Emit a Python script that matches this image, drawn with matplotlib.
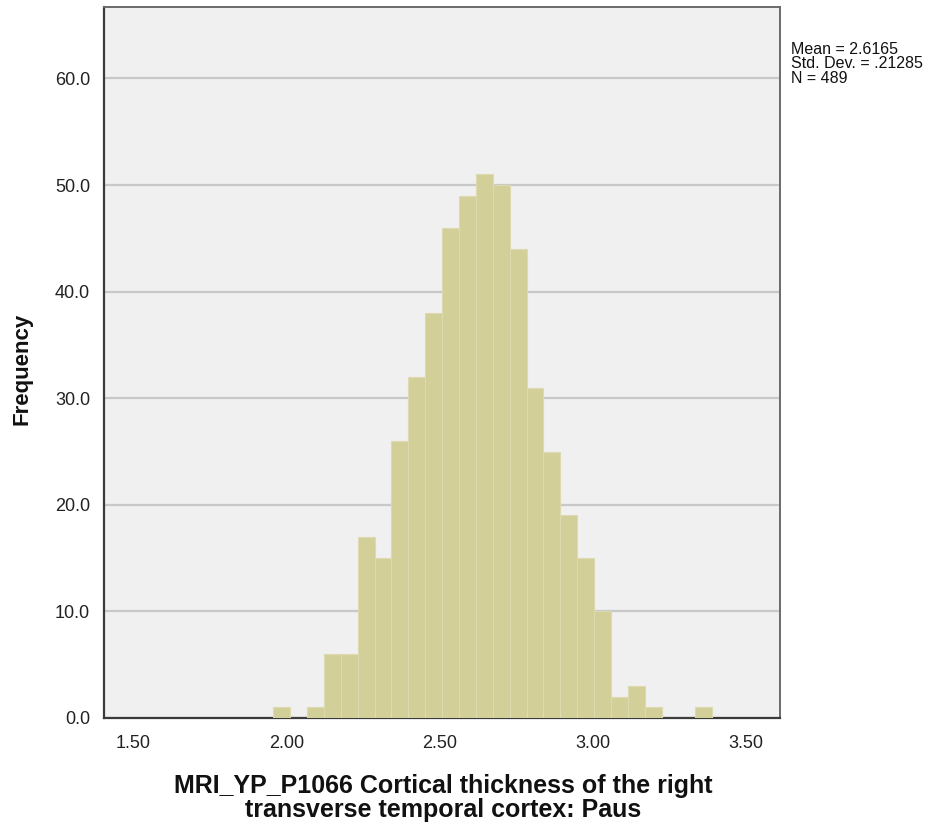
import numpy as np
import matplotlib
matplotlib.use("Agg")
import matplotlib.pyplot as plt

# -----------------------------
# Data
# -----------------------------
bin_start = 1.9565
bin_width = 0.05513
counts = [1, 0, 1, 6, 6, 17, 15, 26, 32, 38, 46, 49, 51, 50, 44,
          31, 25, 19, 15, 10, 2, 3, 1, 0, 0, 1]
x_ticks = [1.50, 2.00, 2.50, 3.00, 3.50]
y_ticks = [0, 10, 20, 30, 40, 50, 60]
stats_lines = ["Mean = 2.6165", "Std. Dev. = .21285", "N = 489"]
x_label = "MRI_YP_P1066 Cortical thickness of the right\ntransverse temporal cortex: Paus"
y_label = "Frequency"

plt.rcParams["font.family"] = ["Liberation Sans", "DejaVu Sans"]

fig = plt.figure(figsize=(9.48, 8.32), dpi=100)
ax = fig.add_axes([104 / 948, 1 - 718 / 832, 676 / 948, 711 / 832])
ax.set_facecolor("#F0F0F0")

# -----------------------------
# Histogram bars
# -----------------------------
edges = bin_start + bin_width * np.arange(len(counts))
ax.bar(edges, counts, width=bin_width, align="edge",
       color="#D3CF99", edgecolor="#DEDAB0", linewidth=0.8, zorder=3)

ax.set_xlim(1.4037, 3.611)
ax.set_ylim(0, 66.7)

ax.set_xticks(x_ticks)
ax.set_xticklabels([f"{v:.2f}" for v in x_ticks])
ax.set_yticks(y_ticks)
ax.set_yticklabels([f"{v:.1f}" for v in y_ticks])
ax.tick_params(axis="both", length=0, labelsize=13, colors="#222222")
ax.tick_params(axis="x", pad=12)
ax.tick_params(axis="y", pad=10)

ax.yaxis.grid(True, color="#C8C8C8", linewidth=1.6, zorder=0)
ax.set_axisbelow(True)

for side in ["left", "bottom"]:
    ax.spines[side].set_color("#3A3A3A")
    ax.spines[side].set_linewidth(1.6)
for side in ["top", "right"]:
    ax.spines[side].set_color("#6A6A6A")
    ax.spines[side].set_linewidth(1.4)

# -----------------------------
# Labels and stats
# -----------------------------
fig.text(22 / 948, 1 - 369 / 832, y_label, rotation=90, ha="center", va="center",
         fontsize=16, fontweight="bold", color="#111111")
fig.text(443 / 948, 1 - 798 / 832, x_label, ha="center", va="center",
         fontsize=18, fontweight="bold", color="#111111", linespacing=0.95)
fig.text(791 / 948, 1 - 42 / 832, "\n".join(stats_lines), ha="left", va="top",
         fontsize=11.5, color="#111111", linespacing=0.95)

fig.savefig("out.png", dpi=100)
